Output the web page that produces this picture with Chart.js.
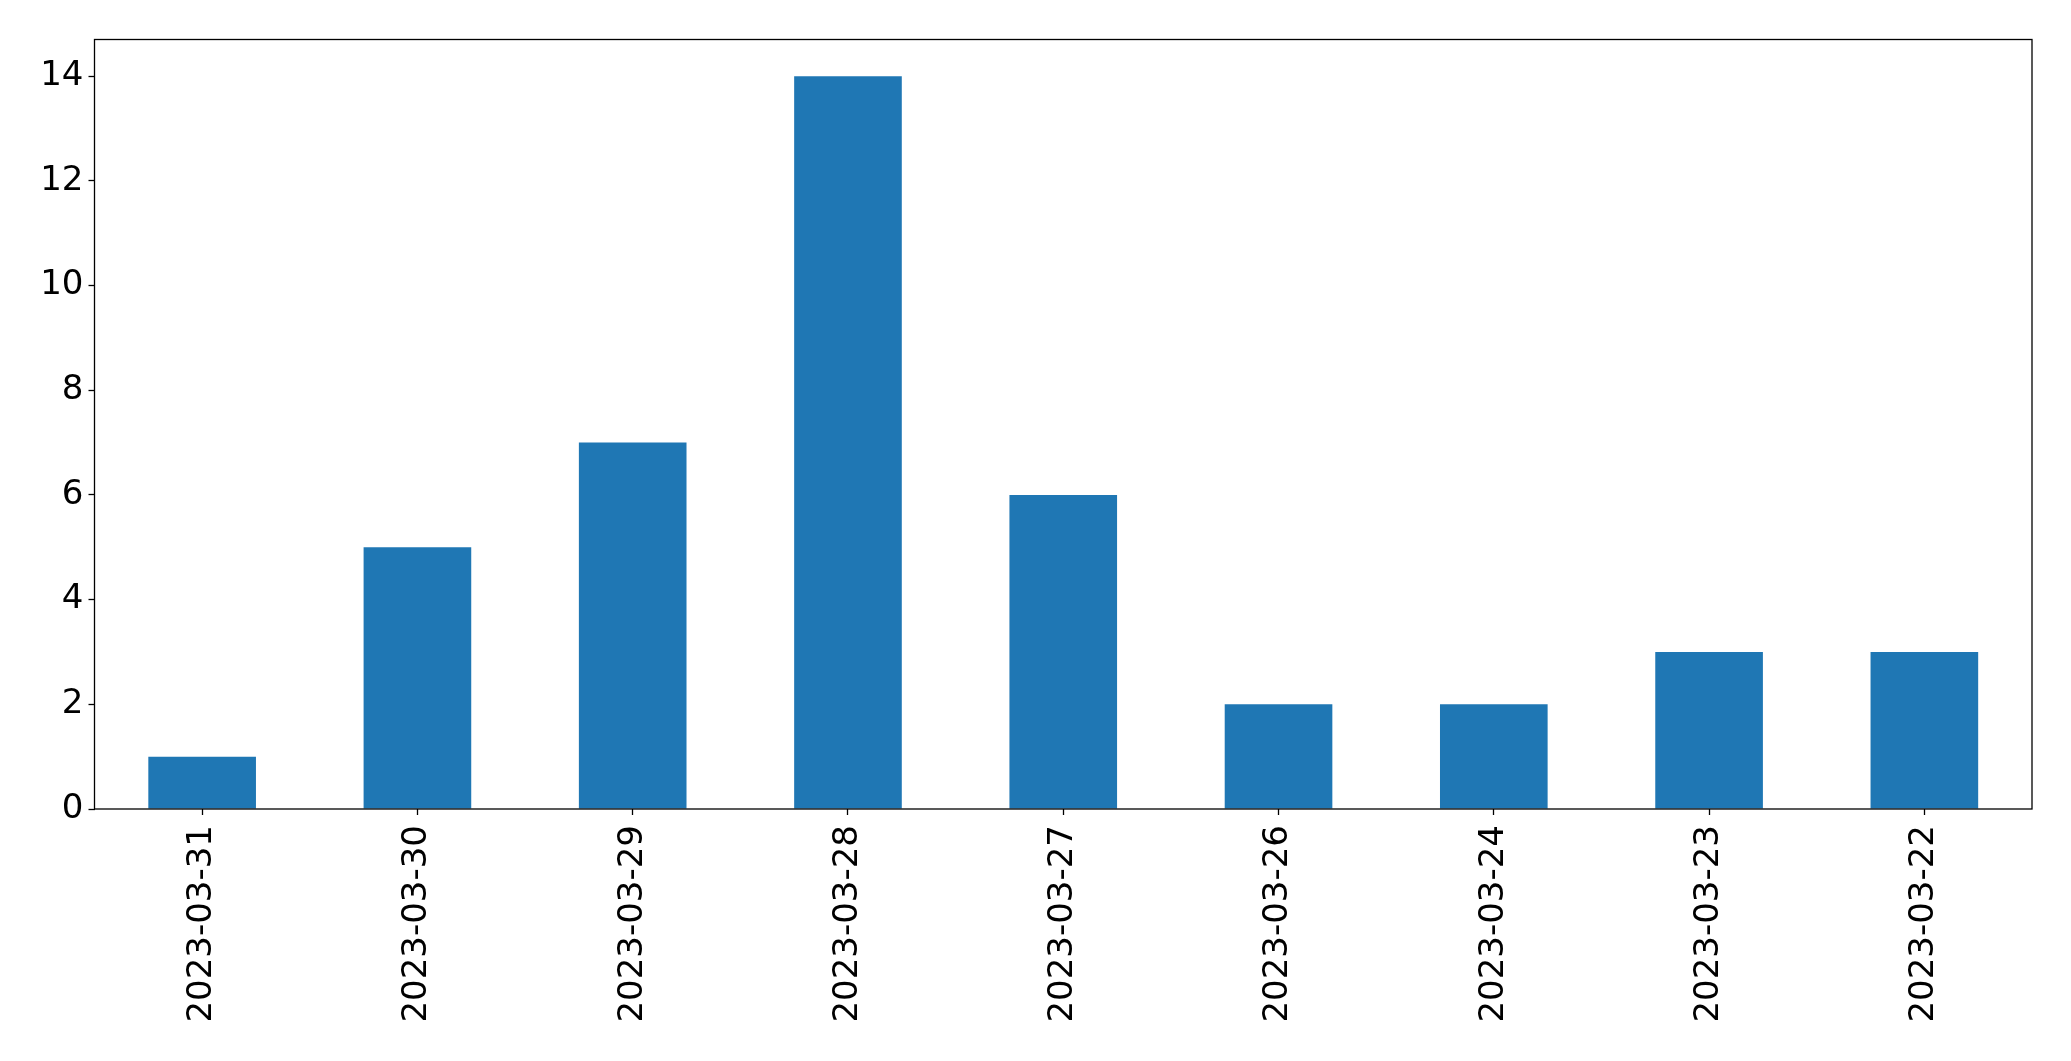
<!DOCTYPE html>
<html>
<head>
<meta charset="utf-8">
<script src="https://cdn.jsdelivr.net/npm/chart.js@4/dist/chart.umd.min.js"></script>
<style>
html,body{margin:0;padding:0;background:#fff;}
#wrap{width:2071px;height:1061px;}
</style>
</head>
<body>
<div id="wrap"><canvas id="c" width="2071" height="1061"></canvas></div>
<script>
const categories = ["2023-03-31","2023-03-30","2023-03-29","2023-03-28","2023-03-27","2023-03-26","2023-03-24","2023-03-23","2023-03-22"];
const counts = [1,5,7,14,6,2,2,3,3];
const yTicks = [0,2,4,6,8,10,12,14];

const frame = {
  id: 'frame',
  afterDatasetsDraw(chart) {
    const a = chart.chartArea, ctx = chart.ctx;
    ctx.save();
    ctx.strokeStyle = '#000';
    ctx.lineWidth = 1.3;
    ctx.strokeRect(a.left, a.top, a.right - a.left, a.bottom - a.top);
    ctx.restore();
  }
};

new Chart(document.getElementById('c'), {
  type: 'bar',
  data: {
    labels: categories,
    datasets: [{
      data: counts,
      backgroundColor: '#1f77b4',
      borderWidth: 0,
      barPercentage: 0.5,
      categoryPercentage: 1.0
    }]
  },
  options: {
    responsive: false,
    animation: false,
    events: [],
    layout: { padding: { left: 0, top: 39.5, right: 39, bottom: 0 } },
    plugins: { legend: { display: false }, tooltip: { enabled: false } },
    scales: {
      x: {
        offset: true,
        grid: { display: true, drawOnChartArea: false, tickLength: 6, tickColor: '#000', tickWidth: 1.3, offset: false },
        border: { display: false },
        ticks: {
          color: '#000',
          font: { family: 'DejaVu Sans', size: 34 },
          minRotation: 90, maxRotation: 90,
          padding: 10,
          autoSkip: false
        },
        afterFit(s) { s.height = 1061 - 809; }
      },
      y: {
        min: 0, max: 14.7,
        afterBuildTicks(s) { s.ticks = yTicks.map(v => ({ value: v })); },
        grid: { display: true, drawOnChartArea: false, tickLength: 6, tickColor: '#000', tickWidth: 1.3 },
        border: { display: false },
        ticks: {
          color: '#000',
          font: { family: 'DejaVu Sans', size: 34 },
          padding: 5
        },
        afterFit(s) { s.width = 94.5; }
      }
    }
  },
  plugins: [frame]
});
</script>
</body>
</html>
